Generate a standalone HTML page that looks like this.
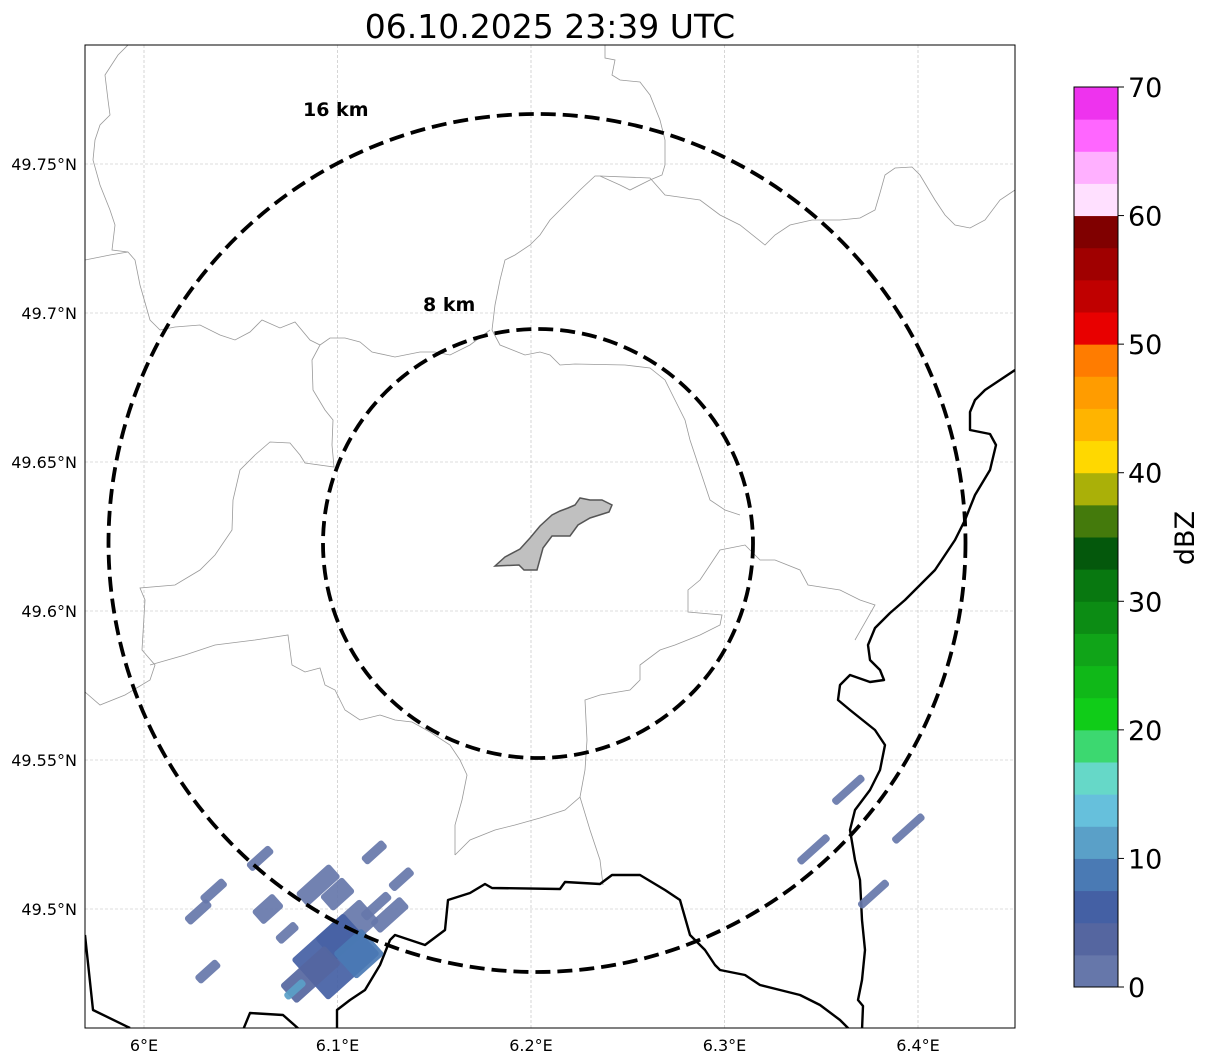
<!DOCTYPE html>
<html><head><meta charset="utf-8"><style>
html,body{margin:0;padding:0;background:#fff;}
svg{display:block;font-family:"DejaVu Sans","Liberation Sans",sans-serif;}
</style></head><body>
<svg id="chart" width="1207" height="1064" viewBox="0 0 1207 1064">
<text x="550" y="38" font-size="33" text-anchor="middle">06.10.2025 23:39 UTC</text>
<defs><clipPath id="clip"><rect x="85" y="45" width="930" height="983"/></clipPath></defs>
<g clip-path="url(#clip)">
<g id="grid"></g>
<g fill="none" stroke="#999" stroke-width="0.8">
<path d="M85,260 L110,255 L128,252 L135,260 L140,285 L150,320 L160,330 L175,327 L200,325 L220,335 L235,340 L250,332 L262,320 L280,328 L295,322 L310,340 L320,345 L330,338 L345,338 L360,342 L372,352 L395,357 L420,352 L435,352 L450,355 L470,345 L490,330"/>
<path d="M320,345 L312,360 L313,390 L325,410 L333,420 L332,445 L334,467 L305,463 L300,455 L290,443 L270,442 L255,455 L240,470 L233,500 L232,530 L215,555 L200,570 L175,585 L140,588 L145,600 L142,650 L155,665 L150,680 L125,695 L100,705 L85,692"/>
<path d="M150,665 L185,655 L215,645 L255,640 L288,635 L292,665 L305,672 L320,668 L325,685 L335,690 L345,710 L360,720 L380,715 L395,720 L412,722 L430,732 L450,745 L460,760 L467,775 L462,800 L455,825 L455,855"/>
<path d="M455,855 L470,840 L495,830 L515,825 L540,818 L565,810 L580,797 L585,770 L587,740 L585,700 L600,695 L630,690 L640,680 L640,665 L660,650 L675,645 L700,635 L720,625 L722,615 L688,612 L688,590 L700,580 L710,565 L720,550 L745,545 L760,560 L775,560 L800,570 L808,585 L840,590 L860,600 L875,605 L855,640"/>
<path d="M580,797 L590,830 L600,860 L603,885"/>
<path d="M128,45 L118,55 L105,75 L108,100 L110,115 L100,125 L95,140 L93,160 L100,185 L110,210 L115,225 L112,250 L128,252"/>
<path d="M605,45 L605,58 L615,60 L612,75 L620,80 L640,82 L650,95 L660,120 L665,140 L665,165 L662,175 L650,180 L630,190 L620,185 L600,176 L595,176 L580,190 L565,205 L550,220 L540,235 L530,245 L515,255 L505,260 L500,280 L495,305 L492,330"/>
<path d="M600,176 L650,178 L665,195 L700,200 L720,215 L740,225 L765,245 L775,235 L790,225 L812,220 L840,220 L860,218 L875,210 L880,193 L885,175 L895,168 L912,167 L920,175 L935,200 L945,215 L955,225 L970,228 L985,220 L1000,200 L1015,190"/>
<path d="M492,330 L500,345 L525,355 L540,352 L550,355 L560,365 L575,364 L625,365 L650,368 L665,380 L675,400 L685,420 L690,440 L700,470 L710,500 L725,510 L740,515"/>
</g>
<path d="M495,566 L505,557 L520,549 L530,538 L540,526 L552,515 L560,511 L568,508 L575,505 L580,498 L590,500 L602,500 L612,505 L609,512 L590,518 L578,525 L570,536 L552,536 L543,548 L537,570 L524,570 L519,565 Z" fill="#c0c0c0" stroke="#555" stroke-width="1.5"/>
<g fill="none" stroke="#000" stroke-width="2.4" stroke-linejoin="round">
<path d="M85,935 L93,1010 L130,1028"/>
<path d="M243,1030 L250,1013 L283,1015 L300,1030"/>
<path d="M337,1030 L337,1010 L350,1000 L365,990 L380,965 L390,940 L395,935 L425,945 L445,930 L448,900 L470,893 L485,884 L492,888 L560,889 L565,882 L600,884 L612,875 L640,875 L665,890 L680,900 L690,935 L705,950 L715,965 L720,970 L745,975 L760,985 L780,990 L800,995 L820,1005 L840,1020 L850,1030"/>
<path d="M1015,370 L1000,380 L985,390 L975,400 L970,412 L970,430 L990,434 L996,445 L990,470 L975,495 L965,520 L955,540 L945,555 L935,570 L920,585 L905,600 L890,613 L875,628 L868,645 L870,660 L880,670 L884,680 L870,682 L850,675 L840,685 L838,700 L850,710 L875,730 L885,745 L880,770 L870,790 L855,810 L850,830 L855,860 L860,880 L862,920 L865,950 L862,980 L858,1000 L863,1006 L862,1030"/>
</g>
<g id="echoes"></g>
<g fill="none" stroke="#000" stroke-width="3.8" stroke-dasharray="15,7">
<ellipse cx="537" cy="543" rx="428.5" ry="429"/>
<ellipse cx="538" cy="543.5" rx="215" ry="214.5"/>
</g>
<text x="303" y="116" font-size="19" font-weight="bold">16 km</text>
<text x="423" y="311" font-size="19" font-weight="bold">8 km</text>
</g>
<rect x="85" y="45" width="930" height="983" fill="none" stroke="#000" stroke-width="1"/>
<g id="ticks"></g>
<g id="cbar"></g>
<text transform="translate(1194,538) rotate(-90)" font-size="27" text-anchor="middle">dBZ</text>
</svg>
<script>
const lonTicks=[6.0,6.1,6.2,6.3,6.4];
const lonLabels=["6°E","6.1°E","6.2°E","6.3°E","6.4°E"];
const latTicks=[49.5,49.55,49.6,49.65,49.7,49.75];
const latLabels=["49.5°N","49.55°N","49.6°N","49.65°N","49.7°N","49.75°N"];
const cbarColors=["#6677aa","#5566a0","#4460a4","#4a7ab4","#5aa0c8","#66c0dc","#66d8c8","#3cd870","#10cc18","#10b818","#10a418","#0c8c14","#087810","#04580c","#447a0c","#aab008","#ffd800","#ffb400","#ff9c00","#ff7c00","#e80000","#c00000","#a00000","#800000","#ffe0ff","#ffb0ff","#ff66ff","#ee33ee"];
const cbarTicks=[0,10,20,30,40,50,60,70];
const echoLon=[6.060,6.036,6.028,6.033,6.064,6.074,6.090,6.119,6.133,6.120,6.100,6.127,6.105,6.099,6.086,6.111,6.078,6.364,6.346,6.377,6.395];
const echoLat=[49.517,49.506,49.499,49.479,49.500,49.492,49.508,49.519,49.510,49.501,49.505,49.498,49.493,49.484,49.478,49.485,49.473,49.540,49.520,49.505,49.527];
const echoLen=[30,30,30,28,28,25,45,28,28,35,30,40,60,70,60,38,25,40,40,38,40];
const echoWid=[10,10,10,10,18,10,18,10,10,10,20,15,30,55,25,35,8,8,8,8,8];
const echoDbz=[1,1,1,1,1,1,1,1,1,1,1,1,2,5,3,9,12,1,1,1,1];
const NS="http://www.w3.org/2000/svg";
const X=lon=>144+(lon-6.0)*1935;
const Y=lat=>909-(lat-49.5)*2980;
const cbY=v=>987-v*900/70;
function mk(t,a){const e=document.createElementNS(NS,t);for(const k in a)e.setAttribute(k,a[k]);return e;}
const grid=document.getElementById('grid'),ticks=document.getElementById('ticks');
lonTicks.forEach((v,i)=>{
 const l=mk('line',{x1:X(v),x2:X(v),y1:45,y2:1028,stroke:'#bbb','stroke-width':0.6,'stroke-dasharray':'3,2'});
 
 
 grid.appendChild(l);
 const t=mk('text',{x:X(v),y:1051,'font-size':16,'text-anchor':'middle'});t.textContent=lonLabels[i];
 
 
 ticks.appendChild(t);
});
latTicks.forEach((v,i)=>{
 const l=mk('line',{x1:85,x2:1015,y1:Y(v),y2:Y(v),stroke:'#bbb','stroke-width':0.6,'stroke-dasharray':'3,2'});
 
 
 grid.appendChild(l);
 const t=mk('text',{x:77,y:Y(v)+6,'font-size':16,'text-anchor':'end'});t.textContent=latLabels[i];
 
 
 ticks.appendChild(t);
});
const ech=document.getElementById('echoes');
echoLon.forEach((lo,i)=>{
 const c=Math.min(cbarColors.length-1,Math.floor(echoDbz[i]/2.5));
 const r=mk('rect',{x:-echoLen[i]/2,y:-echoWid[i]/2,width:echoLen[i],height:echoWid[i],rx:3,fill:cbarColors[c],'fill-opacity':0.92,transform:`translate(${X(lo)},${Y(echoLat[i])}) rotate(-42)`});
 
 
 ech.appendChild(r);
});
const cb=document.getElementById('cbar');
cbarColors.forEach((c,i)=>{
 const v0=i*2.5,v1=(i+1)*2.5;
 const r=mk('rect',{x:1074,y:cbY(v1),width:44,height:cbY(v0)-cbY(v1)+0.5,fill:c});
 
 
 cb.appendChild(r);
});
const fr=mk('rect',{x:1074,y:cbY(70),width:44,height:cbY(0)-cbY(70),fill:'none',stroke:'#000','stroke-width':1});


cb.appendChild(fr);
cbarTicks.forEach(v=>{
 const l=mk('line',{x1:1118,x2:1124,y1:cbY(v),y2:cbY(v),stroke:'#000'});
 
 
 cb.appendChild(l);
 const t=mk('text',{x:1128,y:cbY(v)+10,'font-size':27});t.textContent=v;
 
 
 cb.appendChild(t);
});
</script>
</body></html>
